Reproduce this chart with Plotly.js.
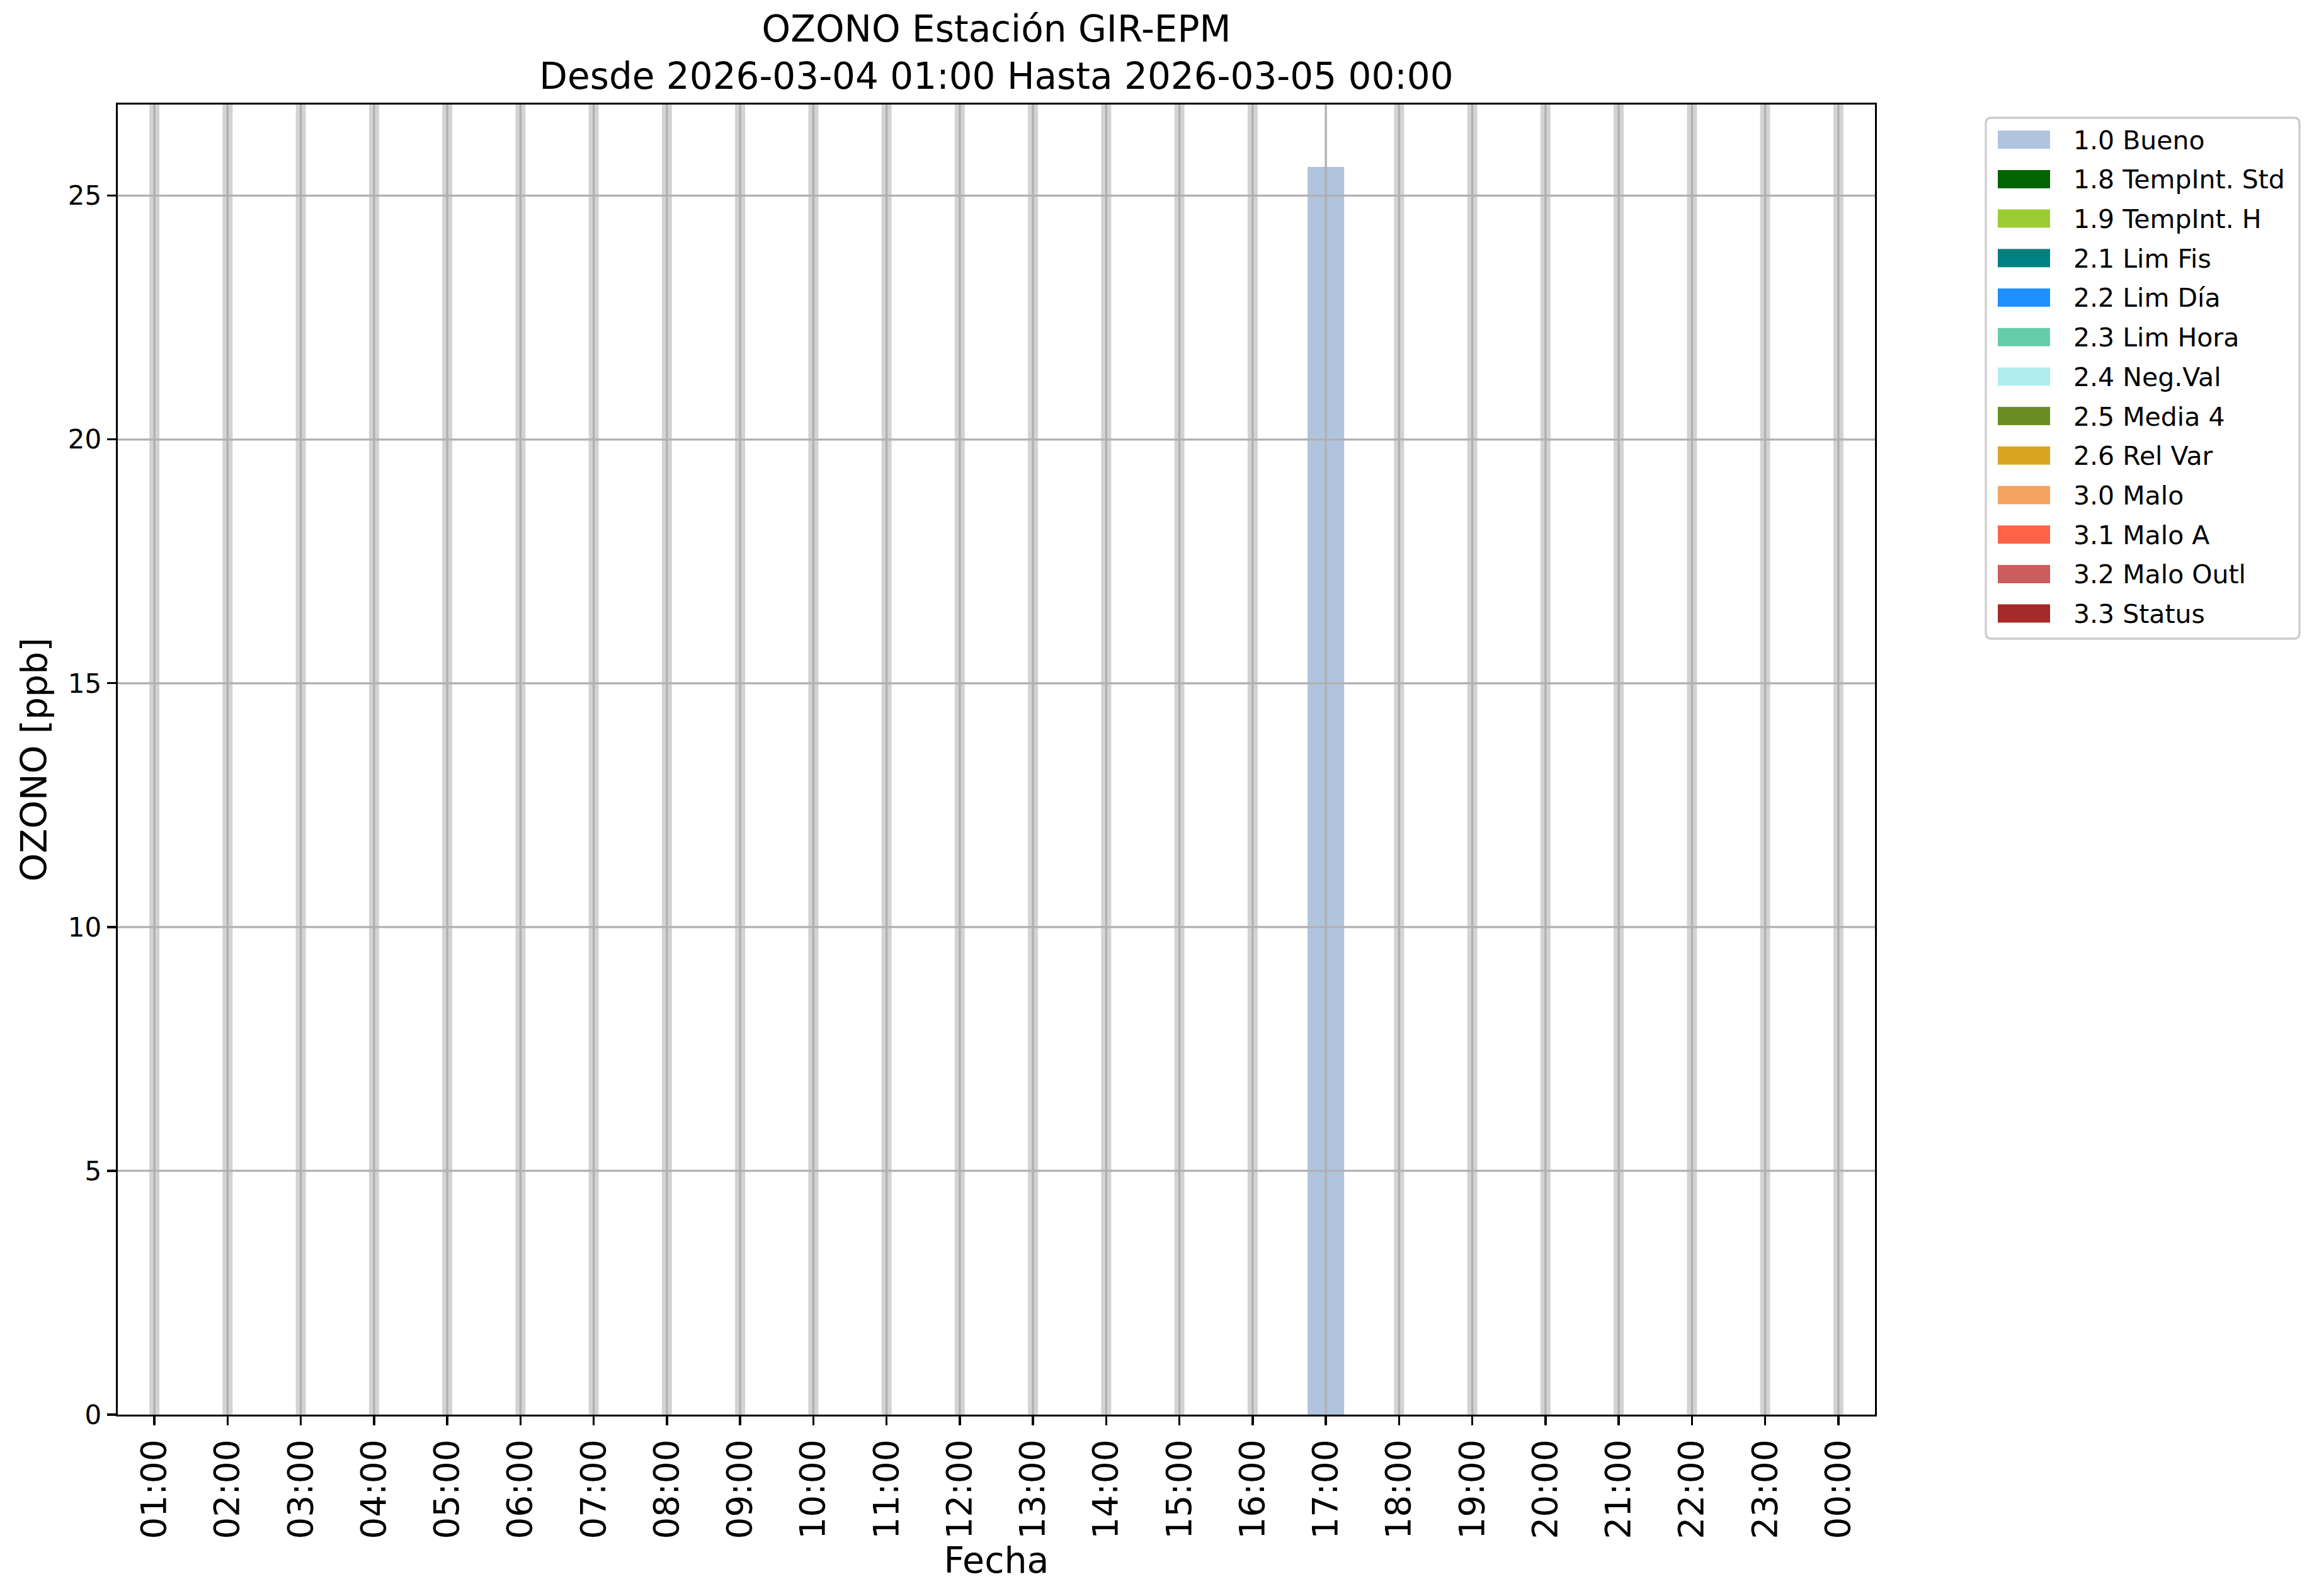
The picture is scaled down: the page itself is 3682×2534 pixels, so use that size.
<!DOCTYPE html>
<html>
<head>
<meta charset="utf-8">
<script src="https://cdn.plot.ly/plotly-3.0.1.min.js"></script>
<style>html,body{margin:0;padding:0;background:#fff;}</style>
</head>
<body>
<div id="chart" style="width:3682px;height:2534px;"></div>
<script>
// ---- data ----
const hours = ["01:00","02:00","03:00","04:00","05:00","06:00","07:00","08:00","09:00","10:00","11:00","12:00",
               "13:00","14:00","15:00","16:00","17:00","18:00","19:00","20:00","21:00","22:00","23:00","00:00"];
const ozone = [null,null,null,null,null,null,null,null,null,null,null,null,
               null,null,null,null,25.59,null,null,null,null,null,null,null];
const hourFlags = [null,null,null,null,null,null,null,null,null,null,null,null,
                   null,null,null,null,"1.0",null,null,null,null,null,null,null];
const flagCodes = ["1.0","1.8","1.9","2.1","2.2","2.3","2.4","2.5","2.6","3.0","3.1","3.2","3.3"];
const flagNames = ["Bueno","TempInt. Std","TempInt. H","Lim Fis","Lim Día","Lim Hora","Neg.Val","Media 4","Rel Var","Malo","Malo A","Malo Outl","Status"];
const flagColors = ["#b0c4de","#006400","#9acd32","#008080","#1e90ff","#66cdaa","#afeeee","#6b8e23","#daa520","#f4a460","#ff6347","#cd5c5c","#a52a2a"];
const yTicks = [0,5,10,15,20,25];
const titleLine1 = "OZONO Estación GIR-EPM";
const titleLine2 = "Desde 2026-03-04 01:00 Hasta 2026-03-05 00:00";

// ---- geometry (pixels) ----
const W = 3682, H = 2534;
const M = {l:187, r:705, t:166, b:288};
const PW = W - M.l - M.r, PH = H - M.t - M.b;
const px2x = p => (p - M.l) / PW;
const py2y = p => (H - M.b - p) / PH;
const FONT = "DejaVu Sans, Liberation Sans, sans-serif";
const yMax = Math.max(...ozone.filter(v => v !== null)) * 1.05;

// ---- traces ----
const traces = flagCodes.map((code, k) => ({
  type: "bar",
  x: hours,
  y: ozone.map((v, i) => hourFlags[i] === code ? v : null),
  width: 0.5,
  name: code + " " + flagNames[k],
  marker: {color: flagColors[k], line: {width: 0}},
  showlegend: false,
  hoverinfo: "x+y"
}));

// ---- shapes ----
const shapes = [];
// missing-data bands
ozone.forEach((v, i) => {
  if (v === null) {
    shapes.push({type: "rect", layer: "below", xref: "x", yref: "paper",
      x0: i - 0.0688, x1: i + 0.0688, y0: 0, y1: 1,
      fillcolor: "#d3d3d3", line: {width: 0}});
  }
});
// grid lines (drawn above bars, as in the reference)
hours.forEach((h, i) => {
  shapes.push({type: "line", layer: "above", xref: "x", yref: "paper",
    x0: i, x1: i, y0: 0, y1: 1, line: {color: "#b0b0b0", width: 3.3}});
});
yTicks.filter(t => t > 0).forEach(t => {
  shapes.push({type: "line", layer: "above", xref: "paper", yref: "y",
    x0: 0, x1: 1, y0: t, y1: t, line: {color: "#b0b0b0", width: 3.3}});
});

// ---- custom legend ----
const annotations = [];
const LX0 = 3153, LX1 = 3651, LY0 = 187, LY1 = 1014, R = 9;
const rp = (x, y) => px2x(x).toFixed(5) + "," + py2y(y).toFixed(5);
shapes.push({type: "path", layer: "above", xref: "paper", yref: "paper",
  path: "M" + rp(LX0 + R, LY0) + " L" + rp(LX1 - R, LY0) + " Q" + rp(LX1, LY0) + " " + rp(LX1, LY0 + R) +
        " L" + rp(LX1, LY1 - R) + " Q" + rp(LX1, LY1) + " " + rp(LX1 - R, LY1) +
        " L" + rp(LX0 + R, LY1) + " Q" + rp(LX0, LY1) + " " + rp(LX0, LY1 - R) +
        " L" + rp(LX0, LY0 + R) + " Q" + rp(LX0, LY0) + " " + rp(LX0 + R, LY0) + " Z",
  fillcolor: "rgba(255,255,255,0.8)", line: {color: "#cccccc", width: 3.3}});
flagCodes.forEach((code, k) => {
  const cy = 221.7 + k * 62.7;
  shapes.push({type: "rect", layer: "above", xref: "paper", yref: "paper",
    x0: px2x(3172), x1: px2x(3255), y0: py2y(cy + 14.5), y1: py2y(cy - 14.5),
    fillcolor: flagColors[k], line: {width: 0}});
  annotations.push({xref: "paper", yref: "paper", x: px2x(3290), y: py2y(cy + 1),
    xanchor: "left", yanchor: "middle", showarrow: false,
    text: code + " " + flagNames[k], font: {family: FONT, size: 41, color: "#000"}});
});

const layout = {
  width: W, height: H,
  margin: M,
  paper_bgcolor: "#fff", plot_bgcolor: "#fff",
  font: {family: FONT, color: "#000"},
  showlegend: false,
  barmode: "overlay",
  title: {
    text: titleLine1 + "<br>" + titleLine2,
    font: {family: FONT, size: 58, color: "#000"},
    x: (M.l + PW / 2) / W, xanchor: "center", xref: "container",
    y: 1 - 66 / H, yanchor: "top", yref: "container"
  },
  xaxis: {
    type: "category",
    range: [-0.5, hours.length - 0.5],
    tickmode: "array", tickvals: hours, ticktext: hours,
    tickangle: -90,
    tickfont: {family: FONT, size: 55, color: "#000"},
    ticks: "outside", ticklen: 14, tickwidth: 3.3, tickcolor: "#000",
    showgrid: false, zeroline: false,
    showline: true, linecolor: "#000", linewidth: 3.3, mirror: true,
    title: {text: "Fecha", font: {family: FONT, size: 57, color: "#000"}, standoff: 4},
    fixedrange: true
  },
  yaxis: {
    range: [0, yMax],
    tickmode: "array", tickvals: yTicks, ticktext: yTicks.map(String),
    tickfont: {family: FONT, size: 42, color: "#000"},
    ticks: "outside", ticklen: 14, tickwidth: 3.3, tickcolor: "#000",
    showgrid: false, zeroline: false,
    showline: true, linecolor: "#000", linewidth: 3.3, mirror: true,
    title: {text: "OZONO [ppb]", font: {family: FONT, size: 57, color: "#000"}, standoff: 16},
    fixedrange: true
  },
  shapes: shapes,
  annotations: annotations
};

Plotly.newPlot("chart", traces, layout, {displayModeBar: false, staticPlot: true});
</script>
</body>
</html>
